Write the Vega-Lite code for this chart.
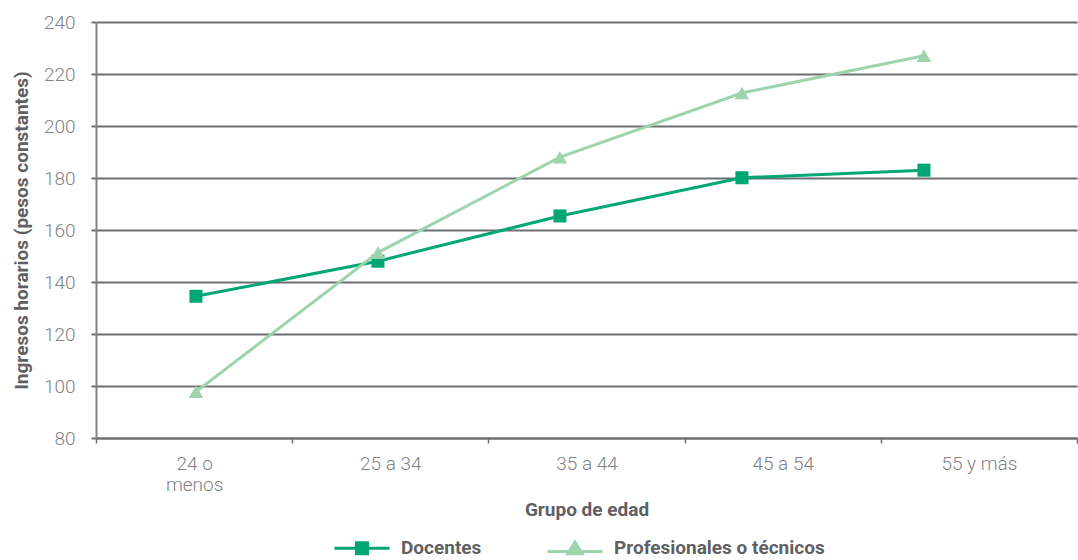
{
  "$schema": "https://vega.github.io/schema/vega-lite/v6.json",
  "width": 981,
  "height": 416,
  "autosize": {"type": "none"},
  "padding": {"left": 96, "top": 22, "right": 1, "bottom": 122},
  "background": "white",
  "config": {
    "view": {"stroke": null},
    "font": "Roboto",
    "axis": {
      "labelFont": "Roboto",
      "labelFontSize": 19,
      "labelFontWeight": 300,
      "labelColor": "#808285",
      "titleFont": "Roboto",
      "titleFontSize": 19,
      "titleFontWeight": "bold",
      "titleColor": "#5f6062"
    }
  },
  "data": {
    "values": [
      {"grupo": "24 o menos", "serie": "Docentes", "valor": 134.5},
      {"grupo": "25 a 34", "serie": "Docentes", "valor": 148},
      {"grupo": "35 a 44", "serie": "Docentes", "valor": 165.4},
      {"grupo": "45 a 54", "serie": "Docentes", "valor": 180.1},
      {"grupo": "55 y más", "serie": "Docentes", "valor": 183},
      {"grupo": "24 o menos", "serie": "Profesionales o técnicos", "valor": 97.8},
      {"grupo": "25 a 34", "serie": "Profesionales o técnicos", "valor": 151.3},
      {"grupo": "35 a 44", "serie": "Profesionales o técnicos", "valor": 188},
      {"grupo": "45 a 54", "serie": "Profesionales o técnicos", "valor": 212.7},
      {"grupo": "55 y más", "serie": "Profesionales o técnicos", "valor": 227}
    ]
  },
  "encoding": {
    "y": {
      "field": "valor",
      "type": "quantitative",
      "scale": {"domain": [80, 240], "nice": false, "zero": false},
      "axis": {
        "title": "Ingresos horarios  (pesos constantes)",
        "values": [80, 100, 120, 140, 160, 180, 200, 220, 240],
        "grid": true,
        "gridColor": "#6d6e71",
        "gridWidth": 2,
        "domain": true,
        "domainColor": "#808285",
        "domainWidth": 2,
        "ticks": true,
        "tickColor": "#6d6e71",
        "tickSize": 5,
        "tickWidth": 2,
        "labelPadding": 16,
        "titlePadding": 12
      }
    }
  },
  "layer": [
    {
      "transform": [{"filter": "datum.serie == 'Docentes'"}],
      "mark": {"type": "line", "color": "#00a676", "strokeWidth": 3},
      "encoding": {
        "x": {"field": "grupo", "type": "ordinal", "sort": null,
              "scale": {"type": "point", "padding": 0.695, "align": 0.395}, "axis": null}
      }
    },
    {
      "transform": [{"filter": "datum.serie == 'Docentes'"}],
      "mark": {"type": "point", "shape": "square", "filled": true, "opacity": 1, "color": "#00a676", "size": 170},
      "encoding": {
        "x": {"field": "grupo", "type": "ordinal", "sort": null,
              "scale": {"type": "point", "padding": 0.695, "align": 0.395}, "axis": null}
      }
    },
    {
      "transform": [{"filter": "datum.serie == 'Profesionales o técnicos'"}],
      "mark": {"type": "line", "color": "#9dd4ad", "strokeWidth": 3},
      "encoding": {
        "x": {"field": "grupo", "type": "ordinal", "sort": null,
              "scale": {"type": "point", "padding": 0.695, "align": 0.395}, "axis": null}
      }
    },
    {
      "transform": [{"filter": "datum.serie == 'Profesionales o técnicos'"}],
      "mark": {"type": "point", "shape": "triangle-up", "filled": true, "opacity": 1, "color": "#9dd4ad", "size": 210},
      "encoding": {
        "x": {"field": "grupo", "type": "ordinal", "sort": null,
              "scale": {"type": "point", "padding": 0.695, "align": 0.395}, "axis": null}
      }
    },
    {
      "transform": [{"filter": "datum.valor < 0"}],
      "mark": {"type": "point", "filled": true, "strokeWidth": 3, "size": 3025, "opacity": 1},
      "encoding": {
        "x": {
          "field": "grupo",
          "type": "nominal",
          "sort": null,
          "scale": {"type": "band", "domain": ["24 o menos", "25 a 34", "35 a 44", "45 a 54", "55 y más"]},
          "axis": {
            "title": "Grupo de edad",
            "labelAngle": 0,
            "bandPosition": 0,
            "tickBand": "extent",
            "labelExpr": "datum.value == '24 o menos' ? ['24 o', 'menos'] : datum.value",
            "labelLineHeight": 21,
            "labelBaseline": "top",
            "labelPadding": 11,
            "domain": true,
            "domainColor": "#6d6e71",
            "domainWidth": 2,
            "ticks": true,
            "tickColor": "#6d6e71",
            "tickSize": 5,
            "tickWidth": 1.5,
            "titlePadding": 6
          }
        },
        "fill": {
          "field": "serie",
          "type": "nominal",
          "scale": {"domain": ["Docentes", "Profesionales o técnicos"], "range": ["#00a676", "#9dd4ad"]},
          "legend": {
            "title": null,
            "orient": "none",
            "direction": "horizontal",
            "legendX": 237,
            "legendY": 497,
            "symbolSize": 3025,
            "symbolStrokeWidth": 3,
            "symbolOpacity": 1,
            "labelFont": "Roboto",
            "labelFontSize": 19,
            "labelFontWeight": "bold",
            "labelColor": "#5f6062",
            "labelOffset": 10,
            "columnPadding": 59,
            "labelLimit": 400
          }
        },
        "stroke": {
          "field": "serie",
          "type": "nominal",
          "scale": {"domain": ["Docentes", "Profesionales o técnicos"], "range": ["#00a676", "#9dd4ad"]}
        },
        "shape": {
          "field": "serie",
          "type": "nominal",
          "scale": {
            "domain": ["Docentes", "Profesionales o técnicos"],
            "range": [
              "M-1,0H1M-0.2,-0.2H0.2V0.2H-0.2Z",
              "M-1,0.12H1M0,-0.22L0.26,0.2H-0.26Z"
            ]
          }
        }
      }
    }
  ],
  "resolve": {"scale": {"x": "independent"}}
}
